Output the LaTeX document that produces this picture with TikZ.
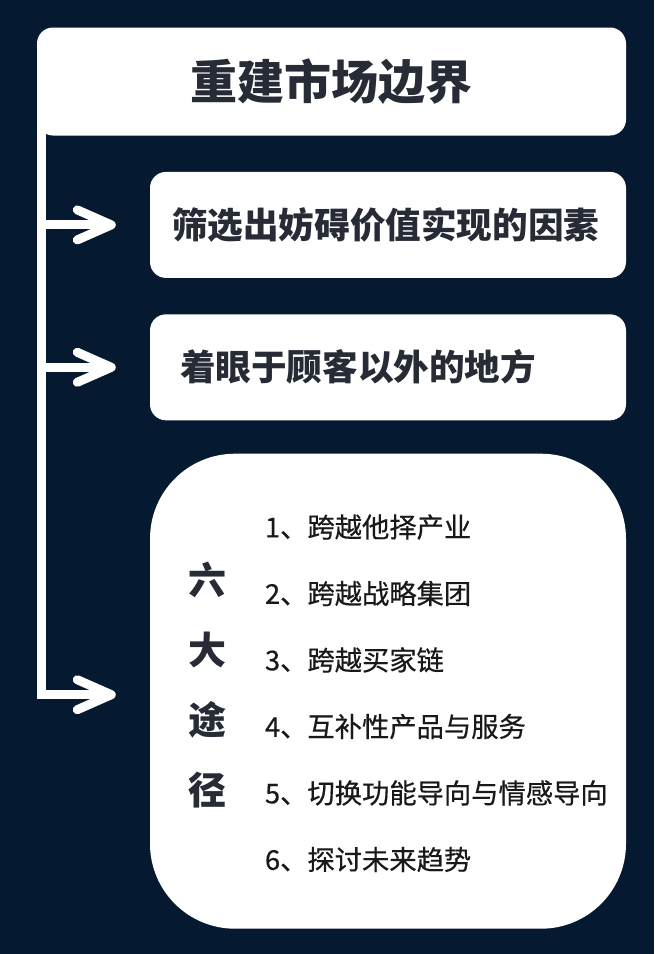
\documentclass[tikz,border=0pt]{standalone}
\usepackage{fontspec}
\setmainfont{Noto Sans CJK SC}
\newfontfamily\listefont[FakeBold=0.5]{Noto Sans CJK SC}
\usetikzlibrary{positioning}
\usetikzlibrary{arrows.meta}
\definecolor{fondnavy}{RGB}{5,25,49}
\definecolor{encre}{RGB}{38,43,53}
\tikzstyle{boite}=[
  fill=white,
  rounded corners=16pt,
  inner ysep=0pt,
  minimum height=106pt,
  text width=420pt,
  align=left,
  text=encre,
  font=\fontsize{35.6}{40}\selectfont\bfseries
]
\tikzstyle{fleche}=[
  draw=white,
  line width=9pt,
  -{Straight Barb[length=34pt,width=30pt,round]},
  shorten >=34pt
]

\begin{document}
\begin{tikzpicture}[x=1pt,y=-1pt,node distance=36pt and 0pt]
    \fill[fondnavy] (0,0) rectangle (654,954);
    \node[boite,minimum width=589pt,minimum height=108pt,align=center,text width=540pt,font=\fontsize{47}{52}\selectfont\bfseries] (titre) at (331.5,81.5) {重建市场边界} ;
    \node[boite,below left=of titre.south east,inner xsep=22pt,text width=432pt] (facteurs) {筛选出妨碍价值实现的因素} ;
    \node[boite,below left=of facteurs.south east,inner xsep=30pt,text width=416pt] (ailleurs) {着眼于顾客以外的地方} ;
    \node[boite,below left=33pt and 0pt of ailleurs.south east,rounded corners=85pt,minimum width=476pt,minimum height=475pt,text width=440pt] (voies) {} ;
    \node[anchor=center,text=encre,align=center,font=\fontsize{38}{70}\selectfont\bfseries] (six) at ([xshift=58pt,yshift=6pt]voies.west) {六\\大\\途\\径} ;
    \node[anchor=west,text=black!90,align=left,inner sep=0pt,font=\fontsize{27.3}{66.5}\listefont] (liste) at ([xshift=115pt,yshift=-2pt]voies.west) {1、跨越他择产业\\2、跨越战略集团\\3、跨越买家链\\4、互补性产品与服务\\5、切换功能导向与情感导向\\6、探讨未来趋势} ;
    \coordinate (tronc) at ([xshift=4.5pt,yshift=14pt]titre.south west);
    \coordinate (coude) at ([yshift=-3.5pt]tronc |- voies.west);
    \draw[draw=white,line width=9pt] (tronc) -- ([yshift=-4.5pt]coude);
    \draw[fleche] (tronc |- facteurs.west) -- (facteurs.west);
    \draw[fleche] (tronc |- ailleurs.west) -- (ailleurs.west);
    \draw[fleche] (coude) -- (coude -| voies.west);
  \end{tikzpicture}
\end{document}
